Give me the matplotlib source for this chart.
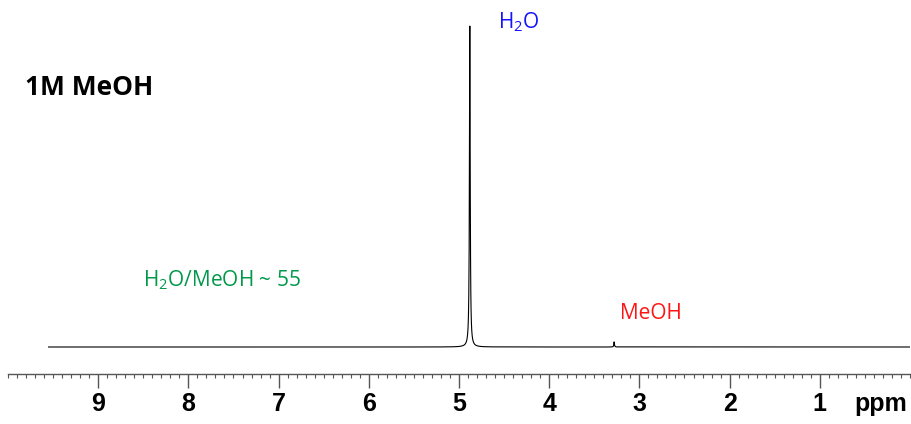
import numpy as np
import matplotlib
matplotlib.use("Agg")
import matplotlib.pyplot as plt
from matplotlib.ticker import MultipleLocator, FixedLocator

# --- data ---
peak_ppm = [4.88, 3.28]          # H2O, MeOH
peak_height = [1.0, 0.016]
peak_hwhm = [0.005, 0.004]
ppm_start, ppm_end = 9.55, 0.0
major_ticks = [1, 2, 3, 4, 5, 6, 7, 8, 9]
tick_labels = ["1", "2", "3", "4", "5", "6", "7", "8", "9"]

plt.rcParams['mathtext.fontset'] = 'custom'
plt.rcParams['mathtext.rm'] = 'Open Sans'
plt.rcParams['mathtext.default'] = 'regular'

W, H = 912, 424
fig = plt.figure(figsize=(W / 100, H / 100), dpi=100)
ax_left, ax_right = 8, 910
ax_bottom_px = 374
ax = fig.add_axes([ax_left / W, (H - ax_bottom_px) / H, (ax_right - ax_left) / W, ax_bottom_px / H])

x = np.linspace(ppm_end, ppm_start, 40000)
y = np.zeros_like(x)
for p, h, w in zip(peak_ppm, peak_height, peak_hwhm):
    y += h * w**2 / ((x - p)**2 + w**2)

ax.plot(x, y, color='black', lw=0.8)
ax.set_xlim(10.0, 0.0)
base_px, top_px = 27, 348
scale = top_px - base_px
ax.set_ylim(-base_px / scale, (ax_bottom_px - base_px) / scale)

for s in ['top', 'left', 'right']:
    ax.spines[s].set_visible(False)
ax.spines['bottom'].set_color('#555555')
ax.spines['bottom'].set_linewidth(1.0)
ax.set_yticks([])
ax.xaxis.set_major_locator(FixedLocator(major_ticks))
ax.set_xticklabels(tick_labels)
ax.xaxis.set_minor_locator(MultipleLocator(0.1))
ax.tick_params(axis='x', which='major', length=10, width=1.0, color='#555555',
               pad=3, labelsize=18)
ax.tick_params(axis='x', which='minor', length=3, width=0.8, color='#555555')
for lab in ax.get_xticklabels():
    lab.set_fontfamily('Liberation Sans')
    lab.set_fontweight('bold')

fig.text(854 / W, 1 - 411 / H, "ppm", fontsize=18, fontweight='bold',
         family='Liberation Sans', ha='left', va='baseline')
fig.text(25 / W, 1 - 95 / H, "1M MeOH", fontsize=19, fontweight='bold',
         family='Open Sans', ha='left', va='baseline')
fig.text(498 / W, 1 - 28 / H, r"H$_2$O", fontsize=15, color='#1414ff',
         family='Open Sans', ha='left', va='baseline')
fig.text(143 / W, 1 - 286 / H, r"H$_2$O/MeOH ~ 55", fontsize=15, color='#00994a',
         family='Open Sans', ha='left', va='baseline')
fig.text(620 / W, 1 - 319 / H, "MeOH", fontsize=15, color='#ff1414',
         family='Open Sans', ha='left', va='baseline')

fig.savefig("out.png", dpi=100)
